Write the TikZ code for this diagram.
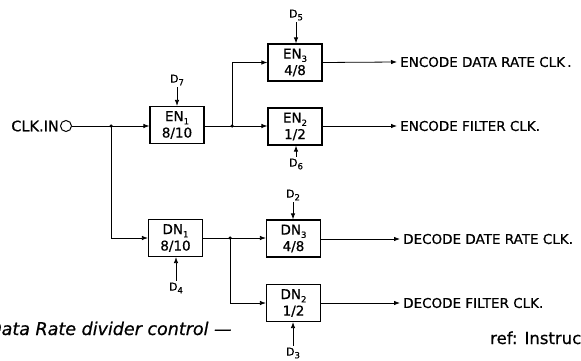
\documentclass[tikz,border=0pt]{standalone}
\usepackage{fontspec}
\setmainfont{DejaVu Sans}[FakeBold=0.6]
\usetikzlibrary{arrows.meta}
\newcommand{\lowr}[1]{\raisebox{-0.45ex}{\fontsize{8.5}{8.5}\selectfont #1}}
\tikzset{
  blk/.style={draw, line width=1.2pt, minimum width=54pt, minimum height=37pt, inner sep=0pt,
    align=center, font=\fontsize{13.5}{16.5}\selectfont},
  ctl/.style={inner sep=1.5pt, font=\fontsize{11}{11}\selectfont},
  lbl/.style={anchor=west, inner sep=0pt, font=\fontsize{13.5}{13.5}\selectfont},
  wire/.style={line width=0.8pt},
  arr/.style={wire, -{Latex[length=6pt,width=4.5pt]}},
  jdot/.style={circle, fill, inner sep=0pt, minimum size=3.5pt},
}
\begin{document}
\begin{tikzpicture}[x=1pt,y=-1pt]
\useasboundingbox (0,0) rectangle (581,361);
% input
\node[anchor=east, inner sep=0pt, font=\fontsize{14.5}{14.5}\selectfont] (clk) at (59,126) {CLK.IN};
\node[circle, draw, line width=1pt, minimum size=11pt, inner sep=0pt] (cin) at (66,126) {};
% blocks
\node[blk] (en1) at (177,125) {EN\lowr{1}\\8/10};
\node[blk] (dn1) at (175.5,238) {DN\lowr{1}\\8/10};
\node[blk] (en3) at (295,62.5) {EN\lowr{3}\\4/8};
\node[blk] (en2) at (295,126.5) {EN\lowr{2}\\1/2};
\node[blk] (dn3) at (293.5,238.5) {DN\lowr{3}\\4/8};
\node[blk] (dn2) at (293.5,303) {DN\lowr{2}\\1/2};
% control inputs
\node[ctl] (d7) at (177,80) {D\lowr{7}};
\node[ctl] (d4) at (176,288) {D\lowr{4}};
\node[ctl] (d5) at (296,15) {D\lowr{5}};
\node[ctl] (d6) at (296,164) {D\lowr{6}};
\node[ctl] (d2) at (293,195) {D\lowr{2}};
\node[ctl] (d3) at (293,353) {D\lowr{3}};
% junctions
\node[jdot] (j0) at (111,126) {};
\node[jdot] (j1) at (232,126) {};
\node[jdot] (j2) at (230,238) {};
% outputs
\node[lbl] (o1) at (400,62) {ENCODE DATA RATE CLK\,.};
\node[lbl] (o2) at (400,126) {ENCODE FILTER CLK.};
\node[lbl] (o3) at (403,239) {DECODE DATE RATE CLK.};
\node[lbl] (o4) at (403,303) {DECODE FILTER CLK.};
\coordinate (e1) at (397,62);
\coordinate (e2) at (397,126);
\coordinate (e3) at (400,239);
\coordinate (e4) at (400,303);
% wiring
\draw[arr] (cin.east) -- (en1.west |- j0);
\draw[arr] (j0.center) |- (dn1.west);
\draw[wire] (en1.east |- j1) -- (j1.center);
\draw[arr] (j1.center) |- (en3.west);
\draw[arr] (j1.center) -- (en2.west |- j1);
\draw[wire] (dn1.east) -- (j2.center);
\draw[arr] (j2.center) -- (dn3.west |- j2);
\draw[arr] (j2.center) |- (dn2.west);
\draw[arr] (en3.east) -- (e1);
\draw[arr] (en2.east |- e2) -- (e2);
\draw[arr] (dn3.east |- e3) -- (e3);
\draw[arr] (dn2.east) -- (e4);
\draw[arr] (d7.south) -- (en1.north);
\draw[arr] (d4.north) -- (dn1.south -| d4);
\draw[arr] (d5.south) -- (en3.north -| d5);
\draw[arr] (d6.north) -- (en2.south -| d6);
\draw[arr] (d2.south) -- (dn3.north -| d2);
\draw[arr] (d3.north) -- (dn2.south -| d3);
% captions
\node[anchor=base west, inner sep=0pt, font=\fontsize{17.5}{17.5}\selectfont\itshape] (cap) at (-12,335) {Data Rate divider control ---};
\node[anchor=base west, inner sep=0pt, font=\fontsize{16.5}{16.5}\selectfont] (ref) at (490,344) {ref: Instruc};
\end{tikzpicture}
\end{document}
